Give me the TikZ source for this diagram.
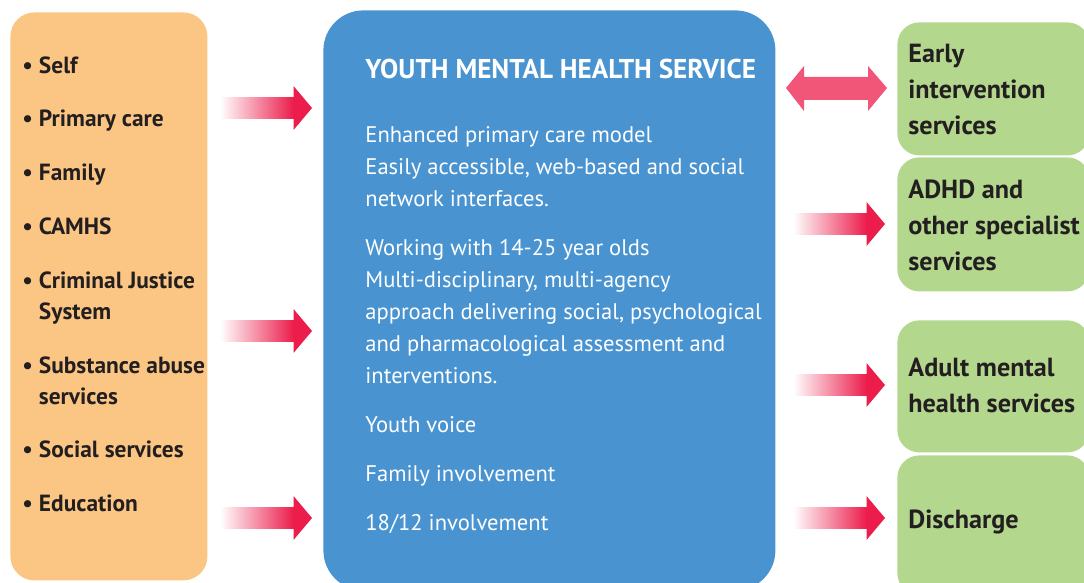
\documentclass[tikz,border=0pt]{standalone}
\usepackage{fontspec}
\setmainfont{PT Sans}
\usetikzlibrary{positioning}
\definecolor{sourceorange}{HTML}{FBC683}
\definecolor{serviceblue}{HTML}{4893D0}
\definecolor{outgreen}{HTML}{B3D78D}
\definecolor{arrowred}{HTML}{EC1C4B}
\definecolor{textdark}{HTML}{231F20}
\tikzset{
  panel/.style={draw=none, inner sep=0pt, anchor=north west},
  listtext/.style={font=\bfseries\fontsize{11.7}{15.5}\selectfont, text=textdark, inner sep=0pt, anchor=north west},
  bodytext/.style={font=\fontsize{11.3}{16}\selectfont, text=white, inner sep=0pt, anchor=north west},
  outtext/.style={font=\bfseries\fontsize{13.1}{18}\selectfont, text=textdark, inner sep=0pt, anchor=north west},
}
% block arrow into the service: x start, x tip, y
\newcommand{\feedarrow}[3]{%
  \shade[left color=white, right color=arrowred] (#1,#3-10.5) rectangle (#2-18,#3+10.5);
  \fill[arrowred] (#2-18.5,#3-22) -- (#2,#3) -- (#2-18.5,#3+22) -- cycle;
}
\begin{document}
\begin{tikzpicture}[x=0.5pt, y=-0.5pt]
  \useasboundingbox (0,0) rectangle (1084,583);

  % Zugang
  \node[panel, fill=sourceorange, rounded corners=12pt, minimum width=98.5pt, minimum height=284pt] (sources) at (10,12) {};
  \node[listtext] (sourcelist) at (22,51) {%
    \begin{tabular}{@{}l@{\hspace{3pt}}l@{}}
      \textbullet & Self\\[11.4pt]
      \textbullet & Primary care\\[11.4pt]
      \textbullet & Family\\[11.4pt]
      \textbullet & CAMHS\\[11.4pt]
      \textbullet & Criminal Justice\\
                  & System\\[11.4pt]
      \textbullet & Substance abuse\\
                  & services\\[11.4pt]
      \textbullet & Social services\\[11.4pt]
      \textbullet & Education
    \end{tabular}};

  % Dienst
  \node[panel, fill=serviceblue, rounded corners=20pt, minimum width=226pt, minimum height=290pt] (service) at (323,10) {};
  \node[bodytext, font=\bfseries\fontsize{13.6}{16}\selectfont, anchor=base west] (title) at (365,79) {YOUTH MENTAL HEALTH SERVICE};
  \node[bodytext] (servicetext) at (365,120) {%
    \begin{tabular}{@{}l@{}}
      Enhanced primary care model\\
      Easily accessible, web-based and social\\
      network interfaces.\\[8.5pt]
      Working with 14-25 year olds\\
      Multi-disciplinary, multi-agency\\
      approach delivering social, psychological\\
      and pharmacological assessment and\\
      interventions.\\[8.5pt]
      Youth voice\\[8.5pt]
      Family involvement\\[8.5pt]
      18/12 involvement
    \end{tabular}};

  % Weiterleitung
  \node[panel, fill=outgreen, rounded corners=11pt, minimum width=96pt, minimum height=66.5pt] (early) at (897,22) {};
  \node[panel, fill=outgreen, rounded corners=11pt, minimum width=96pt, minimum height=67pt] (adhd) at (897,157) {};
  \node[panel, fill=outgreen, rounded corners=11pt, minimum width=96pt, minimum height=66pt] (adult) at (897,320) {};
  \node[panel, fill=outgreen, rounded corners=11pt, minimum width=96pt, minimum height=70pt] (discharge) at (897,455) {};
  \node[outtext] (earlytext) at (908,37) {\begin{tabular}{@{}l@{}}Early\\intervention\\services\end{tabular}};
  \node[outtext] (adhdtext) at (908,173) {\begin{tabular}{@{}l@{}}ADHD and\\other specialist\\services\end{tabular}};
  \node[outtext] (adulttext) at (908,351) {\begin{tabular}{@{}l@{}}Adult mental\\health services\end{tabular}};
  \node[outtext, anchor=base west] (dischargetext) at (908,529) {Discharge};

  % Pfeile
  \feedarrow{220}{312}{108}
  \feedarrow{220}{312}{331}
  \feedarrow{220}{312}{518}
  \feedarrow{793}{885}{224}
  \feedarrow{793}{885}{385}
  \feedarrow{793}{885}{518}
  \shade[left color=arrowred!75, middle color=white, right color=arrowred!75]
    (786,88) -- (804,66) -- (804,77) -- (868,77) -- (868,66) -- (887,88)
    -- (868,111) -- (868,100) -- (804,100) -- (804,111) -- cycle;
\end{tikzpicture}
\end{document}
